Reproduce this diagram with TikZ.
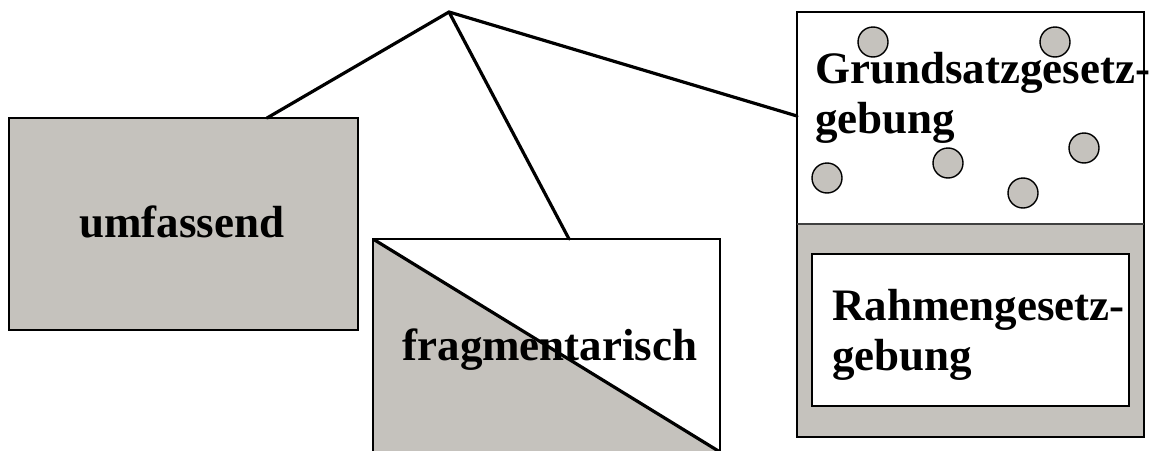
\documentclass[tikz,border=0pt]{standalone}
\usepackage{fontspec}
\setmainfont{Liberation Serif}
\definecolor{boxgray}{RGB}{197,194,189}
\begin{document}
\begin{tikzpicture}[x=1pt,y=-1pt,
  boxframe/.style={draw=black,line width=1.8pt,inner sep=0pt,outer sep=0pt,rectangle},
  connector/.style={draw=black,line width=3.2pt,line cap=round},
  bubble/.style={circle,draw=black,line width=1.4pt,fill=boxgray,minimum size=30pt,inner sep=0pt},
  label/.style={font=\bfseries\fontsize{45}{50}\selectfont,inner sep=0pt,anchor=base},
  labelL/.style={label,anchor=base west}]
\useasboundingbox (0,0) rectangle (1149,450);
\clip (0,0) rectangle (1149,450);
\fill[white] (0,0) rectangle (1149,450);

% left box
\node[boxframe,fill=boxgray,minimum width=349pt,minimum height=212pt] (umf) at (183.5,224) {};
\node[label] (umfT) at (182,237) {umfassend};

% middle box (split diagonally)
\node[boxframe,fill=white,minimum width=347pt,minimum height=213pt,
  path picture={
    \fill[boxgray] (path picture bounding box.north west) -- (path picture bounding box.south east) -- (path picture bounding box.south west) -- cycle;
    \draw[line width=3.2pt] (path picture bounding box.north west) -- (path picture bounding box.south east);
  }] (frag) at (546.5,345.5) {};
\node[label] (fragT) at (550,360) {fragmentarisch};

% right box
\node[boxframe,fill=white,minimum width=347pt,minimum height=425pt] (rbox) at (970.5,224.5) {};
\node[boxframe,draw=none,fill=boxgray,minimum width=347pt,minimum height=213pt] (rlow) at (970.5,330.5) {};
\draw[line width=1.8pt] (rbox.south west) rectangle (rbox.north east);
\draw[line width=1.8pt,draw=black!75] (rlow.north west) -- (rlow.north east);
\node[boxframe,fill=white,minimum width=317pt,minimum height=152pt] (rin) at (970.5,330) {};

% bubbles
\node[bubble] (c1) at (873,42) {};
\node[bubble] (c2) at (1055,42) {};
\node[bubble] (c3) at (1084,148) {};
\node[bubble] (c4) at (948,163) {};
\node[bubble] (c5) at (827,178) {};
\node[bubble] (c6) at (1023,193) {};

\node[labelL] (g1) at (815,83) {Grundsatzgesetz-};
\node[labelL] (g2) at (815,133) {gebung};
\node[labelL] (r1) at (832,320) {Rahmengesetz-};
\node[labelL] (r2) at (832,370) {gebung};

% connectors
\coordinate (apex) at (449,12);
\draw[connector] (apex) -- ([xshift=258pt]umf.north west);
\draw[connector] (apex) -- ([xshift=196pt]frag.north west);
\draw[connector] (apex) -- ([yshift=-104pt]rbox.north west);
\end{tikzpicture}
\end{document}
